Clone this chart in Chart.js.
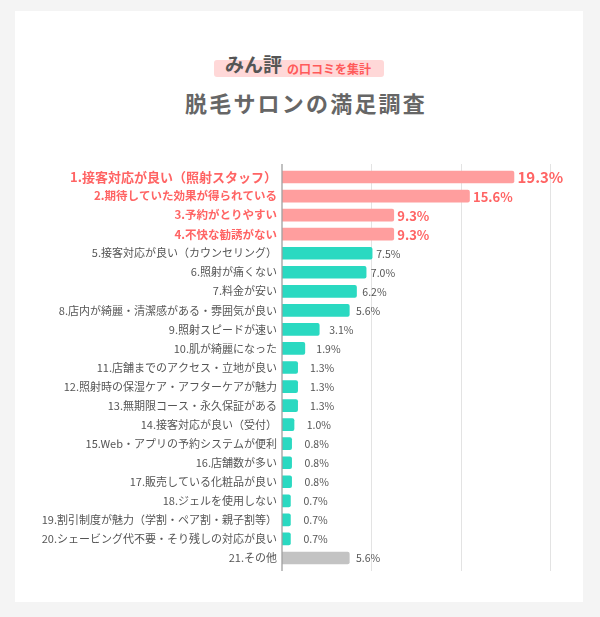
<!DOCTYPE html>
<html><head><meta charset="utf-8">
<script src="https://cdn.jsdelivr.net/npm/chart.js@4"></script>
<style>
html,body{margin:0;padding:0;width:600px;height:617px;background:#f4f4f4;overflow:hidden;font-family:"Noto Sans CJK JP",sans-serif}
.card{position:absolute;left:15px;top:11px;width:568px;height:591px;background:#fff}
.badge{position:absolute;left:214px;top:60px;width:170px;height:17px;background:#ffd8d8;border-radius:3px}
.t1{position:absolute;left:225px;top:54px;font-size:19px;line-height:19px;font-weight:bold;color:#555;white-space:nowrap}
.t2{position:absolute;left:287px;top:63px;font-size:12px;line-height:12px;font-weight:bold;color:#ff5a5a;white-space:nowrap}
.title{position:absolute;left:185px;top:91px;font-size:22px;line-height:22px;font-weight:bold;color:#666;letter-spacing:2.2px;white-space:nowrap}
canvas{position:absolute;left:0;top:0}
</style></head>
<body>
<div class="card"></div>
<div class="badge"></div>
<div class="t1">みん評</div>
<div class="t2">の口コミを集計</div>
<div class="title">脱毛サロンの満足調査</div>
<canvas id="c" width="600" height="617"></canvas>
<script>
const categories = [
  "1.接客対応が良い（照射スタッフ）",
  "2.期待していた効果が得られている",
  "3.予約がとりやすい",
  "4.不快な勧誘がない",
  "5.接客対応が良い（カウンセリング）",
  "6.照射が痛くない",
  "7.料金が安い",
  "8.店内が綺麗・清潔感がある・雰囲気が良い",
  "9.照射スピードが速い",
  "10.肌が綺麗になった",
  "11.店舗までのアクセス・立地が良い",
  "12.照射時の保湿ケア・アフターケアが魅力",
  "13.無期限コース・永久保証がある",
  "14.接客対応が良い（受付）",
  "15.Web・アプリの予約システムが便利",
  "16.店舗数が多い",
  "17.販売している化粧品が良い",
  "18.ジェルを使用しない",
  "19.割引制度が魅力（学割・ペア割・親子割等）",
  "20.シェービング代不要・そり残しの対応が良い",
  "21.その他"
];
const values = [19.3, 15.6, 9.3, 9.3, 7.5, 7.0, 6.2, 5.6, 3.1, 1.9, 1.3, 1.3, 1.3, 1.0, 0.8, 0.8, 0.8, 0.7, 0.7, 0.7, 5.6];
const highlightCount = 4;
const otherIndex = 20;
const xMax = 22.3;
const gridSteps = 3;

const FONT = '"Noto Sans CJK JP", sans-serif';
const HL = '#ff6464';
const TXT = '#555555';
const colorFor = i => i < highlightCount ? '#ff9e9e' : (i === otherIndex ? '#c3c3c3' : '#2ad9c1');

const gridPlugin = {
  id: 'gridLines',
  beforeDatasetsDraw(chart) {
    const {ctx, chartArea: a, scales: {x}} = chart;
    ctx.save();
    ctx.strokeStyle = '#e3e3e3';
    ctx.lineWidth = 1;
    for (let i = 1; i <= gridSteps; i++) {
      const px = Math.round(x.getPixelForValue(xMax * i / gridSteps)) + 0.5;
      ctx.beginPath(); ctx.moveTo(px, a.top - 3.5); ctx.lineTo(px, a.bottom + 3.5); ctx.stroke();
    }
    ctx.restore();
  },
  afterDatasetsDraw(chart) {
    const {ctx, chartArea: a, scales: {x}} = chart;
    ctx.save();
    ctx.strokeStyle = '#a0a0a0';
    ctx.lineWidth = 1.3;
    const px = x.getPixelForValue(0);
    ctx.beginPath(); ctx.moveTo(px, a.top - 3.5); ctx.lineTo(px, a.bottom + 3.5); ctx.stroke();
    ctx.restore();
  }
};

const valueLabels = {
  id: 'valueLabels',
  afterDatasetsDraw(chart) {
    const {ctx, scales: {x}} = chart;
    const x0 = x.getPixelForValue(0);
    const meta = chart.getDatasetMeta(0);
    ctx.save();
    ctx.textAlign = 'left';
    ctx.textBaseline = 'middle';
    meta.data.forEach((bar, i) => {
      const txt = values[i].toFixed(1) + '%';
      let px;
      if (i < highlightCount) {
        ctx.font = `bold ${i === 0 ? 15 : 13}px ${FONT}`;
        ctx.fillStyle = HL;
        px = bar.x + 3.5;
      } else {
        ctx.font = `10.5px ${FONT}`;
        ctx.fillStyle = TXT;
        px = x0 + 14 + 0.89 * (bar.x - x0);
      }
      ctx.fillText(txt, px, bar.y + 0.5);
    });
    ctx.restore();
  }
};

new Chart(document.getElementById('c'), {
  type: 'bar',
  data: {
    labels: categories,
    datasets: [{
      data: values,
      backgroundColor: values.map((v, i) => colorFor(i)),
      barThickness: 12,
      borderRadius: 2,
      borderSkipped: 'start'
    }]
  },
  options: {
    indexAxis: 'y',
    responsive: false,
    devicePixelRatio: 1,
    animation: false,
    layout: {padding: {top: 167.5, bottom: 49.5, left: 0, right: 50}},
    plugins: {legend: {display: false}, tooltip: {enabled: false}},
    scales: {
      x: {display: false, min: 0, max: xMax},
      y: {
        afterFit(s) { s.width = 282; },
        grid: {display: false, drawTicks: false},
        border: {display: false},
        ticks: {
          padding: 5,
          autoSkip: false,
          color: ctx => ctx.index < highlightCount ? HL : TXT,
          font: ctx => ctx.index === 0 ? {family: FONT, size: 13, weight: 'bold'}
                    : (ctx.index < highlightCount ? {family: FONT, size: 11.5, weight: 'bold'} : {family: FONT, size: 11, weight: 'normal'})
        }
      }
    }
  },
  plugins: [gridPlugin, valueLabels]
});
</script>
</body></html>
